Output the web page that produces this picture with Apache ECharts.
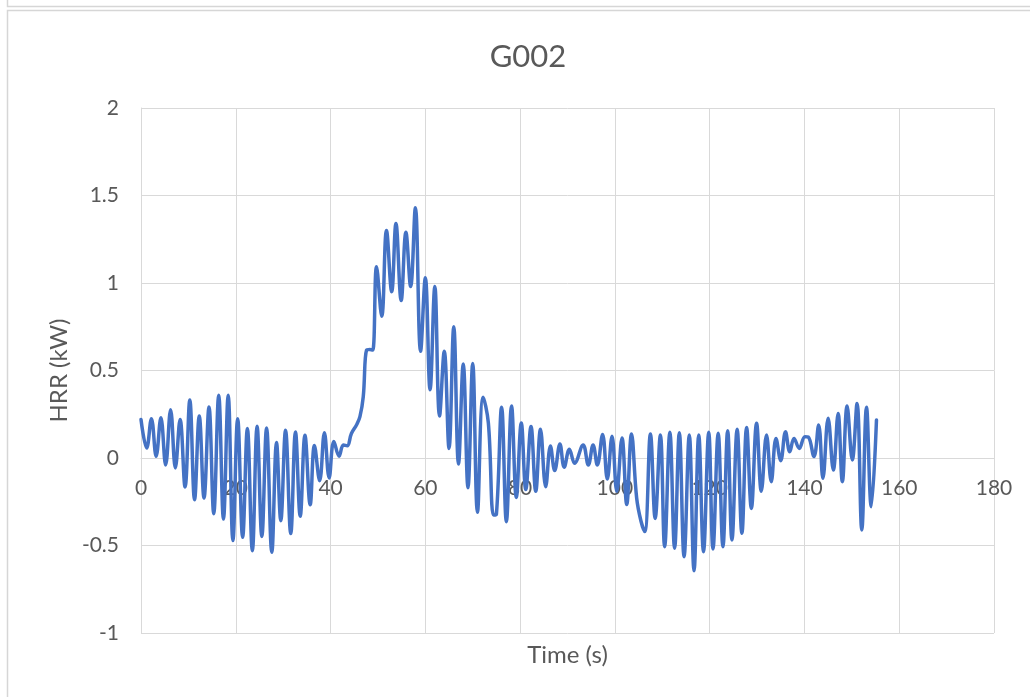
<!DOCTYPE html>
<html>
<head>
<meta charset="utf-8">
<script src="https://cdn.jsdelivr.net/npm/echarts@6.0.0/dist/echarts.min.js"></script>
<style>
html,body{margin:0;padding:0;background:#fff;}
#chart{width:1030px;height:697px;}
</style>
</head>
<body>
<div id="chart"></div>
<script>
// Data
var chartTitle = 'G002';
var xAxisTitle = 'Time (s)';
var yAxisTitle = 'HRR (kW)';

var timeS = [
  0.0, 1.2, 2.2, 3.2, 4.2, 5.2, 6.25, 7.25, 8.25, 9.3,
  10.3, 11.3, 12.3, 13.3, 14.35, 15.35, 16.4, 17.4, 18.4, 19.4,
  20.4, 21.45, 22.45, 23.5, 24.5, 25.5, 26.5, 27.6, 28.6, 29.5,
  30.5, 31.6, 32.6, 33.6, 34.6, 35.7, 36.6, 37.7, 38.7, 39.7,
  40.7, 41.8, 42.7, 43.5, 44.4, 45.5, 46.2, 46.9, 47.6, 48.3,
  48.9, 49.7, 50.8, 51.8, 52.9, 53.8, 54.9, 55.9, 56.9, 57.9,
  59.0, 60.0, 61.0, 62.0, 63.0, 64.0, 65.0, 66.0, 67.0, 68.0,
  69.0, 70.0, 71.0, 72.2, 73.3, 74.4, 75.0, 76.1, 77.1, 78.2,
  79.2, 80.25, 81.2, 82.3, 83.3, 84.3, 85.4, 86.4, 87.3, 88.4,
  89.3, 90.4, 91.5, 93.3, 94.4, 95.4, 96.3, 97.4, 98.4, 99.4,
  100.4, 101.5, 102.5, 103.5, 104.6, 105.5, 106.3, 107.5, 108.5, 109.6,
  110.5, 111.6, 112.6, 113.6, 114.6, 115.7, 116.7, 117.7, 118.7, 119.8,
  120.7, 121.8, 122.8, 123.8, 124.7, 125.8, 126.8, 127.8, 128.8, 129.9,
  130.9, 132.0, 133.0, 134.0, 135.0, 136.0, 136.9, 137.8, 138.9, 140.1,
  140.8, 142.0, 143.0, 143.9, 145.0, 146.1, 147.1, 148.0, 149.0, 150.1,
  151.1, 152.1, 153.1, 154.1, 155.2
];
var hrrKW = [
  0.22, 0.057, 0.225, 0.01, 0.23, -0.04, 0.276, -0.057, 0.22, -0.166,
  0.331, -0.238, 0.24, -0.229, 0.291, -0.318, 0.358, -0.349, 0.358, -0.472,
  0.225, -0.453, 0.168, -0.53, 0.181, -0.448, 0.171, -0.539, 0.088, -0.358,
  0.158, -0.432, 0.149, -0.333, 0.13, -0.267, 0.072, -0.13, 0.145, -0.114,
  0.095, 0.01, 0.074, 0.07, 0.14, 0.19, 0.236, 0.35, 0.617, 0.62,
  0.617, 1.093, 0.81, 1.30, 0.95, 1.34, 0.90, 1.29, 0.98, 1.43,
  0.61, 1.03, 0.39, 0.98, 0.24, 0.61, 0.055, 0.75, -0.034, 0.537,
  -0.17, 0.54, -0.31, 0.347, 0.2, -0.326, -0.32, 0.29, -0.364, 0.297,
  -0.225, 0.2, -0.18, 0.18, -0.19, 0.164, -0.164, 0.069, -0.072, 0.08,
  -0.053, 0.05, -0.03, 0.075, -0.04, 0.075, -0.04, 0.135, -0.12, 0.125,
  -0.19, 0.115, -0.265, 0.137, -0.23, -0.36, -0.42, 0.137, -0.345, 0.131,
  -0.507, 0.147, -0.516, 0.145, -0.564, 0.131, -0.644, 0.131, -0.535, 0.147,
  -0.52, 0.141, -0.507, 0.156, -0.469, 0.164, -0.43, 0.175, -0.288, 0.198,
  -0.19, 0.131, -0.135, 0.112, -0.015, 0.15, 0.036, 0.112, 0.055, 0.122,
  0.12, 0.008, 0.189, -0.116, 0.227, -0.069, 0.255, -0.135, 0.297, -0.011,
  0.312, -0.411, 0.29, -0.278, 0.217
];

var xMin = 0, xMax = 180, xStep = 20;
var yMin = -1, yMax = 2, yStep = 0.5;

var seriesData = timeS.map(function (t, i) { return [t, hrrKW[i]]; });

var textColor = '#595959';
var gridColor = '#d9d9d9';
var fontFam = 'Lato, "Open Sans", sans-serif';

var chart = echarts.init(document.getElementById('chart'), null, {renderer: 'canvas'});
chart.setOption({
  backgroundColor: '#ffffff',
  animation: false,
  title: {
    text: chartTitle,
    left: 523,
    top: 36,
    textAlign: 'center',
    textStyle: {color: textColor, fontSize: 31, fontWeight: 'normal', fontFamily: fontFam}
  },
  grid: {left: 141, right: 36, top: 108, bottom: 64, containLabel: false, outerBoundsMode: 'none'},
  xAxis: {
    type: 'value',
    min: xMin, max: xMax, interval: xStep,
    position: 'bottom',
    offset: -175,
    name: xAxisTitle,
    nameLocation: 'middle',
    nameGap: 185,
    nameTextStyle: {color: textColor, fontSize: 24, fontFamily: fontFam},
    axisLine: {show: true, onZero: false, lineStyle: {color: gridColor, width: 1}},
    axisTick: {show: false},
    axisLabel: {color: textColor, fontSize: 21, fontFamily: fontFam, margin: 20},
    splitLine: {show: true, lineStyle: {color: gridColor, width: 1}}
  },
  yAxis: {
    type: 'value',
    min: yMin, max: yMax, interval: yStep,
    name: yAxisTitle,
    nameLocation: 'middle',
    nameGap: 69,
    nameRotate: 90,
    nameTextStyle: {color: textColor, fontSize: 24, fontFamily: fontFam},
    axisLine: {show: true, onZero: false, lineStyle: {color: gridColor, width: 1}},
    axisTick: {show: false},
    axisLabel: {color: textColor, fontSize: 21, fontFamily: fontFam, margin: 22},
    splitLine: {show: true, lineStyle: {color: gridColor, width: 1}}
  },
  series: [{
    type: 'line',
    data: seriesData,
    smooth: 0.4,
    showSymbol: false,
    lineStyle: {color: '#4472C4', width: 3.5, cap: 'round', join: 'round'},
    itemStyle: {color: '#4472C4'}
  }],
  graphic: [
    {type: 'rect', silent: true, z: -10,
     shape: {x: 7.5, y: 10.5, width: 1100, height: 800},
     style: {fill: null, stroke: '#d6d6d6', lineWidth: 1.5}},
    {type: 'polyline', silent: true, z: -10,
     shape: {points: [[7.5, -5], [7.5, 6.5], [1100, 6.5]]},
     style: {fill: null, stroke: '#d6d6d6', lineWidth: 1.5}}
  ]
});
</script>
</body>
</html>
